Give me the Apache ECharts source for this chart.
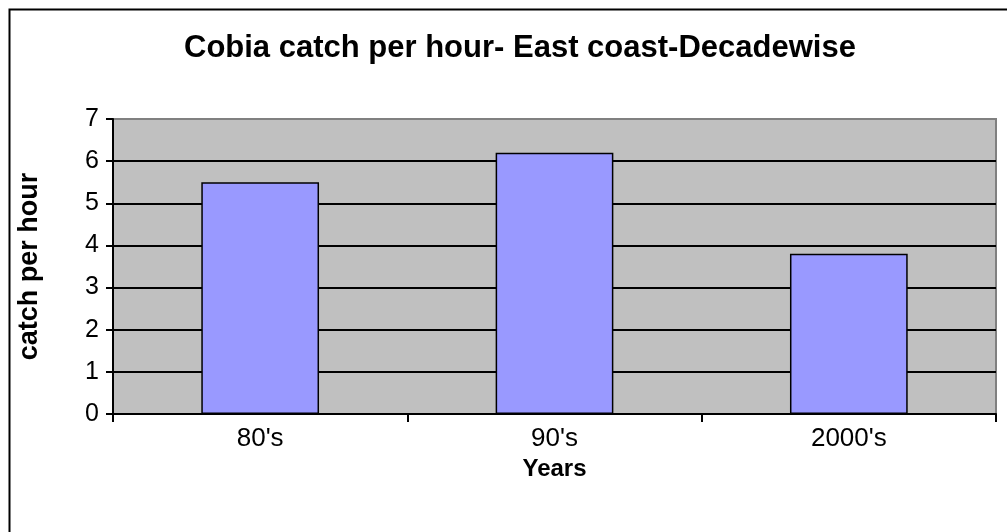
<!DOCTYPE html>
<html>
<head>
<meta charset="utf-8">
<script src="https://cdn.jsdelivr.net/npm/echarts@6/dist/echarts.min.js"></script>
<style>html,body{margin:0;padding:0;background:#fff}#c{width:1007px;height:532px}</style>
</head>
<body>
<div id="c"></div>
<script>
var titleText = "Cobia catch per hour- East coast-Decadewise";
var categories = ["80's", "90's", "2000's"];
var catchPerHour = [5.5, 6.2, 3.8];
var yTicks = [0, 1, 2, 3, 4, 5, 6, 7];
var xName = "Years";
var yName = "catch per hour";

var font = "'Liberation Sans', Arial, sans-serif";
var chart = echarts.init(document.getElementById('c'));
var splitColors = yTicks.map(function (v, i) { return i === yTicks.length - 1 ? '#808080' : '#000000'; });
chart.setOption({
  animation: false,
  backgroundColor: '#ffffff',
  title: {
    text: titleText, left: 179, top: 28,
    textStyle: { fontFamily: font, fontSize: 31, fontWeight: 'bold', color: '#000' }
  },
  graphic: [{
    type: 'rect', left: 7, top: 7, shape: { x: 0, y: 0, width: 1010, height: 540 },
    style: { fill: 'none', stroke: '#000', lineWidth: 2 }, silent: true, z: 100
  }],
  grid: {
    left: 113, top: 119, right: 11, bottom: 118,
    show: true, backgroundColor: '#C0C0C0', borderColor: '#808080', borderWidth: 2
  },
  xAxis: {
    type: 'category', data: categories,
    name: xName, nameLocation: 'middle', nameGap: 36,
    nameTextStyle: { fontFamily: font, fontSize: 24, fontWeight: 'bold', color: '#000' },
    axisLine: { lineStyle: { color: '#000', width: 2 } },
    axisTick: { show: true, length: 8, lineStyle: { color: '#000', width: 2 } },
    axisLabel: { fontFamily: font, fontSize: 26, color: '#000', margin: 12 }
  },
  yAxis: {
    type: 'value', min: 0, max: 7, interval: 1,
    name: yName, nameLocation: 'middle', nameRotate: 90, nameGap: 70,
    nameTextStyle: { fontFamily: font, fontSize: 27, fontWeight: 'bold', color: '#000' },
    axisLine: { show: true, lineStyle: { color: '#000', width: 2 } },
    axisTick: { show: true, length: 7, lineStyle: { color: '#000', width: 2 } },
    axisLabel: { fontFamily: font, fontSize: 25, color: '#000', margin: 14 },
    splitLine: { show: true, lineStyle: { color: splitColors, width: 2 } }
  },
  series: [{
    type: 'bar', data: catchPerHour, barCategoryGap: '60%',
    itemStyle: { color: '#9999FF', borderColor: '#000', borderWidth: 1.5 }
  }]
});
</script>
</body>
</html>
